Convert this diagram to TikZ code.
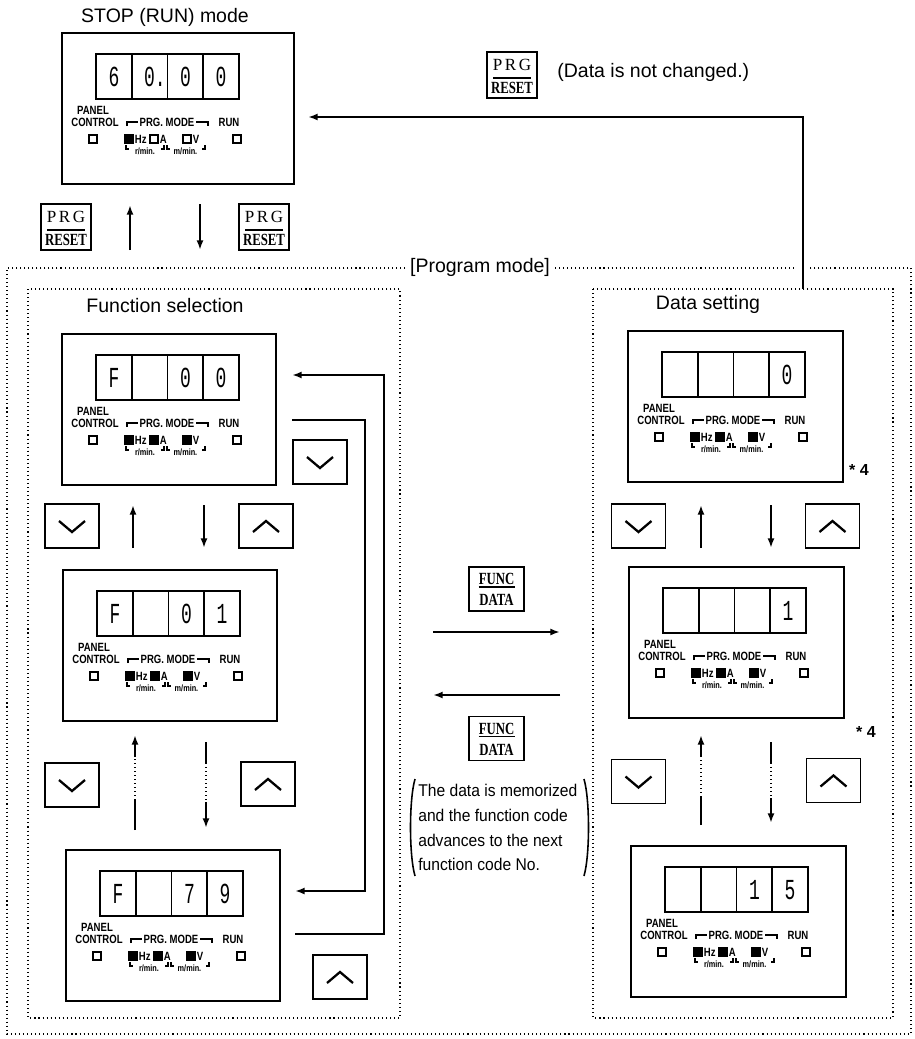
\documentclass[tikz,border=0pt]{standalone}
\usepackage{fontspec}
\setmainfont{Liberation Sans}
\newfontfamily\lblfont[FakeStretch=0.8]{Liberation Sans}
\newfontfamily\digfont[FakeStretch=0.62]{Liberation Mono}
\newfontfamily\keyfont[FakeStretch=0.75]{Liberation Serif}
\newfontfamily\serfont{Liberation Serif}
\newfontfamily\notefont[FakeStretch=0.92]{Liberation Sans}
\usetikzlibrary{arrows.meta,calc}
\newdimen\PX \PX=0.5690551pt

\tikzset{
  ln/.style={line width=1.4pt},
  arr/.style={ln,-{Latex[length=5.5pt,width=4pt]}},
  dots/.style={line width=0.85pt,dash pattern=on 0.6pt off 1.7pt},
  panelbox/.style={draw,line width=1.1pt,inner sep=0pt,minimum height=151\PX},
  dig/.style={font=\digfont\fontsize{16.5}{16.5}\selectfont,inner sep=0pt},
  lbl/.style={font=\lblfont\bfseries\fontsize{6.8}{6.8}\selectfont,inner sep=0pt},
  tinylbl/.style={font=\lblfont\bfseries\fontsize{5.2}{5.2}\selectfont,inner sep=0pt},
  sq/.style={draw,line width=0.8pt,minimum size=8\PX,inner sep=0pt},
  thinln/.style={line width=0.6pt},
  maintext/.style={font=\fontsize{11.1}{13}\selectfont,inner sep=0pt},
  notetext/.style={font=\notefont\fontsize{9.67}{11}\selectfont,inner sep=0pt,anchor=west},
  keybox/.style={draw,line width=1.1pt,inner sep=0pt,minimum width=50\PX,minimum height=46\PX},
  arrkey/.style={draw,line width=1.1pt,inner sep=0pt,minimum width=54\PX,minimum height=44\PX},
  chev/.style={line width=1.3pt,line join=miter},
  starlbl/.style={font=\bfseries\fontsize{9.1}{10}\selectfont,inner sep=0pt},
  keytxt/.style={font=\keyfont\bfseries\fontsize{9.7}{9.7}\selectfont,inner sep=0pt},
}

\newcommand{\dpanel}[9]{%
  \node[panelbox,minimum width=#4\PX,anchor=north west] (#1) at (#2,#3) {};
  \begin{scope}[shift={(#2,#3)}]
    \node[draw,line width=0.9pt,inner sep=0pt,minimum width=143\PX,minimum height=45\PX] (#1-disp) at (106.5,44.5) {};
    \draw[line width=0.9pt] (70.75,22) -- (70.75,67) (106.5,22) -- (106.5,67) (142.25,22) -- (142.25,67);
    \node[dig] (#1-a) at (52.9,45) {#5};
    \node[dig] (#1-b) at (88.6,45) {#6};
    \node[dig] (#1-c) at (124.4,45) {#7};
    \node[dig] (#1-d) at (160.1,45) {#8};
    \node[lbl] (#1-pan) at (32,78) {PANEL};
    \node[lbl] (#1-con) at (34,90) {CONTROL};
    \node[lbl] (#1-prg) at (106,90) {PRG. MODE};
    \draw[thinln] (66,94) -- (66,90) -- (77,90) (135,90) -- (147,90) -- (147,94);
    \node[lbl] (#1-run) at (168,90) {RUN};
    \node[sq] (#1-s1) at (32,107) {};
    \node[sq,fill=black] (#1-s2) at (68,107) {};
    \node[lbl,anchor=west] (#1-hz) at (73.5,107) {Hz};
    \node[sq,fill=#9] (#1-s3) at (93,107) {};
    \node[lbl,anchor=west] (#1-A) at (98.5,107) {A};
    \node[sq,fill=#9] (#1-s4) at (126,107) {};
    \node[lbl,anchor=west] (#1-V) at (131.5,107) {V};
    \node[sq] (#1-s5) at (176,107) {};
    \node[tinylbl] (#1-r) at (84,119) {r/min.};
    \node[tinylbl] (#1-m) at (124.5,119) {m/min.};
    \draw[thinln] (65,113) -- (65,117) -- (68,117) (100,117) -- (103,117) -- (103,113)
                 (106,113) -- (106,117) -- (109,117) (141,117) -- (144,117) -- (144,113);
  \end{scope}}

\newcommand{\prgkey}[3]{%
  \node[keybox] (#1) at (#2,#3) {};
  \node[font=\serfont\fontsize{9.7}{9.7}\selectfont,inner sep=0pt] (#1-t) at ($(#1.center)+(0,-10)$) {P\kern1.5pt R\kern1.5pt G};
  \draw[line width=1.3pt] ($(#1.center)+(-19,3)$) -- ($(#1.center)+(19,3)$);
  \node[keytxt] (#1-b) at ($(#1.center)+(0,13)$) {RESET};}

\newcommand{\funckey}[3]{%
  \node[arrkey,minimum width=55\PX] (#1) at (#2,#3) {};
  \node[keytxt] (#1-t) at ($(#1.center)+(0,-10)$) {FUNC};
  \draw[line width=0.8pt] ($(#1.center)+(-18,-2)$) -- ($(#1.center)+(18,-2)$);
  \node[keytxt] (#1-b) at ($(#1.center)+(0,11)$) {DATA};}

\newcommand{\dnkey}[3]{%
  \node[arrkey] (#1) at (#2,#3) {};
  \draw[chev] ($(#1.center)+(-13,-5)$) -- ($(#1.center)+(0,6)$) -- ($(#1.center)+(13,-5)$);}

\newcommand{\upkey}[3]{%
  \node[arrkey] (#1) at (#2,#3) {};
  \draw[chev] ($(#1.center)+(-13,6)$) -- ($(#1.center)+(0,-5)$) -- ($(#1.center)+(13,6)$);}

\begin{document}
\begin{tikzpicture}[x=0.02cm,y=-0.02cm]
\useasboundingbox (0,0) rectangle (914,1039);

% frames
\draw[dots] (405,268) -- (7,268) -- (7,1034) -- (911,1034) -- (911,268) -- (810,268);
\draw[dots] (555,268) -- (797,268);
\node[maintext] (prgmode) at (480,267) {[Program mode]};
\draw[dots] (28,289) rectangle (400,1018);
\draw[dots] (593,289) rectangle (893,1018);

% titles
\node[maintext] (stoptitle) at (165,17) {STOP (RUN) mode};
\node[maintext] (fstitle) at (165,306) {Function selection};
\node[maintext] (dstitle) at (708,304) {Data setting};

% panels
\dpanel{stop}{61}{32}{232}{6}{0\rlap{.}}{0}{0}{white}
\dpanel{f00}{61}{333}{214}{F}{}{0}{0}{black}
\dpanel{f01}{62}{569}{214}{F}{}{0}{1}{black}
\dpanel{f79}{65}{849}{214}{F}{}{7}{9}{black}
\dpanel{d0}{627}{330}{215}{}{}{}{0}{black}
\dpanel{d1}{628}{566}{215}{}{}{}{1}{black}
\dpanel{d15}{630}{845}{215}{}{}{1}{5}{black}

% STOP <-> program
\prgkey{kTop}{512}{75}
\node[maintext,anchor=west] (notchg) at (557,72) {(Data is not changed.)};
\prgkey{kL}{66}{227}
\prgkey{kR}{264}{227}
\coordinate (su0) at (130,250); \coordinate (su1) at (130,205);
\coordinate (sd0) at (200,204); \coordinate (sd1) at (200,250);
\draw[arr] (su0) -- (su1);
\draw[arr] (sd0) -- (sd1);
\coordinate (ret0) at (803,289); \coordinate (ret1) at (308,117);
\draw[arr] (ret0) |- (ret1);

% left column
\dnkey{kd1}{320}{462}
\dnkey{kd2}{72}{526}
\upkey{ku1}{266}{526}
\coordinate (fu0) at (133,548); \coordinate (fu1) at (133,505);
\coordinate (fd0) at (204,505); \coordinate (fd1) at (204,548);
\draw[arr] (fu0) -- (fu1);
\draw[arr] (fd0) -- (fd1);
\dnkey{kd3}{72}{785}
\upkey{ku2}{268}{784}
\coordinate (gu0) at (135,830); \coordinate (gu1) at (135,800); \coordinate (gu2) at (135,757); \coordinate (gu3) at (135,735);
\draw[ln] (gu0) -- (gu1);
\draw[dots,line width=1.1pt] (gu1) -- (gu2);
\draw[arr] (gu2) -- (gu3);
\coordinate (gd0) at (206,742); \coordinate (gd1) at (206,763); \coordinate (gd2) at (206,802); \coordinate (gd3) at (206,828);
\draw[ln] (gd0) -- (gd1);
\draw[dots,line width=1.1pt] (gd1) -- (gd2);
\draw[arr] (gd2) -- (gd3);
\upkey{ku3}{340}{977}
\coordinate (wa0) at (292,420); \coordinate (wa1) at (365,891); \coordinate (wa2) at (295,891);
\draw[arr] (wa0) -| (wa1) -- (wa2);
\coordinate (wb0) at (295,934); \coordinate (wb1) at (384,375); \coordinate (wb2) at (292,375);
\draw[arr] (wb0) -| (wb1) -- (wb2);

% middle
\funckey{kf1}{496.5}{589}
\funckey{kf2}{496.5}{738.5}
\coordinate (ma0) at (433,632); \coordinate (ma1) at (560,632);
\coordinate (mb0) at (560,695); \coordinate (mb1) at (433,695);
\draw[arr] (ma0) -- (ma1);
\draw[arr] (mb0) -- (mb1);
\node[notetext] (n1) at (418,790) {The data is memorized};
\node[notetext] (n2) at (418,815) {and the function code};
\node[notetext] (n3) at (418,840) {advances to the next};
\node[notetext] (n4) at (418,864) {function code No.};
\draw[line width=0.9pt] (415,779) .. controls (409,800) and (409,855) .. (415,876);
\draw[line width=0.9pt] (584,779) .. controls (590,800) and (590,855) .. (584,876);

% right column
\coordinate (du0) at (701,548); \coordinate (du1) at (701,505);
\coordinate (dd0) at (771,505); \coordinate (dd1) at (771,548);
\draw[arr] (du0) -- (du1);
\draw[arr] (dd0) -- (dd1);
\dnkey{kd4}{638.5}{526}
\upkey{ku4}{832.5}{526}
\node[starlbl] (st1) at (859,470) {* 4};
\node[starlbl] (st2) at (866,732) {* 4};
\dnkey{kd5}{638.5}{781.5}
\upkey{ku5}{833.5}{780.5}
\coordinate (eu0) at (701,825); \coordinate (eu1) at (701,797); \coordinate (eu2) at (701,757); \coordinate (eu3) at (701,735);
\draw[ln] (eu0) -- (eu1);
\draw[dots,line width=1.1pt] (eu1) -- (eu2);
\draw[arr] (eu2) -- (eu3);
\coordinate (ed0) at (771,742); \coordinate (ed1) at (771,763); \coordinate (ed2) at (771,798); \coordinate (ed3) at (771,823);
\draw[ln] (ed0) -- (ed1);
\draw[dots,line width=1.1pt] (ed1) -- (ed2);
\draw[arr] (ed2) -- (ed3);
\end{tikzpicture}
\end{document}
